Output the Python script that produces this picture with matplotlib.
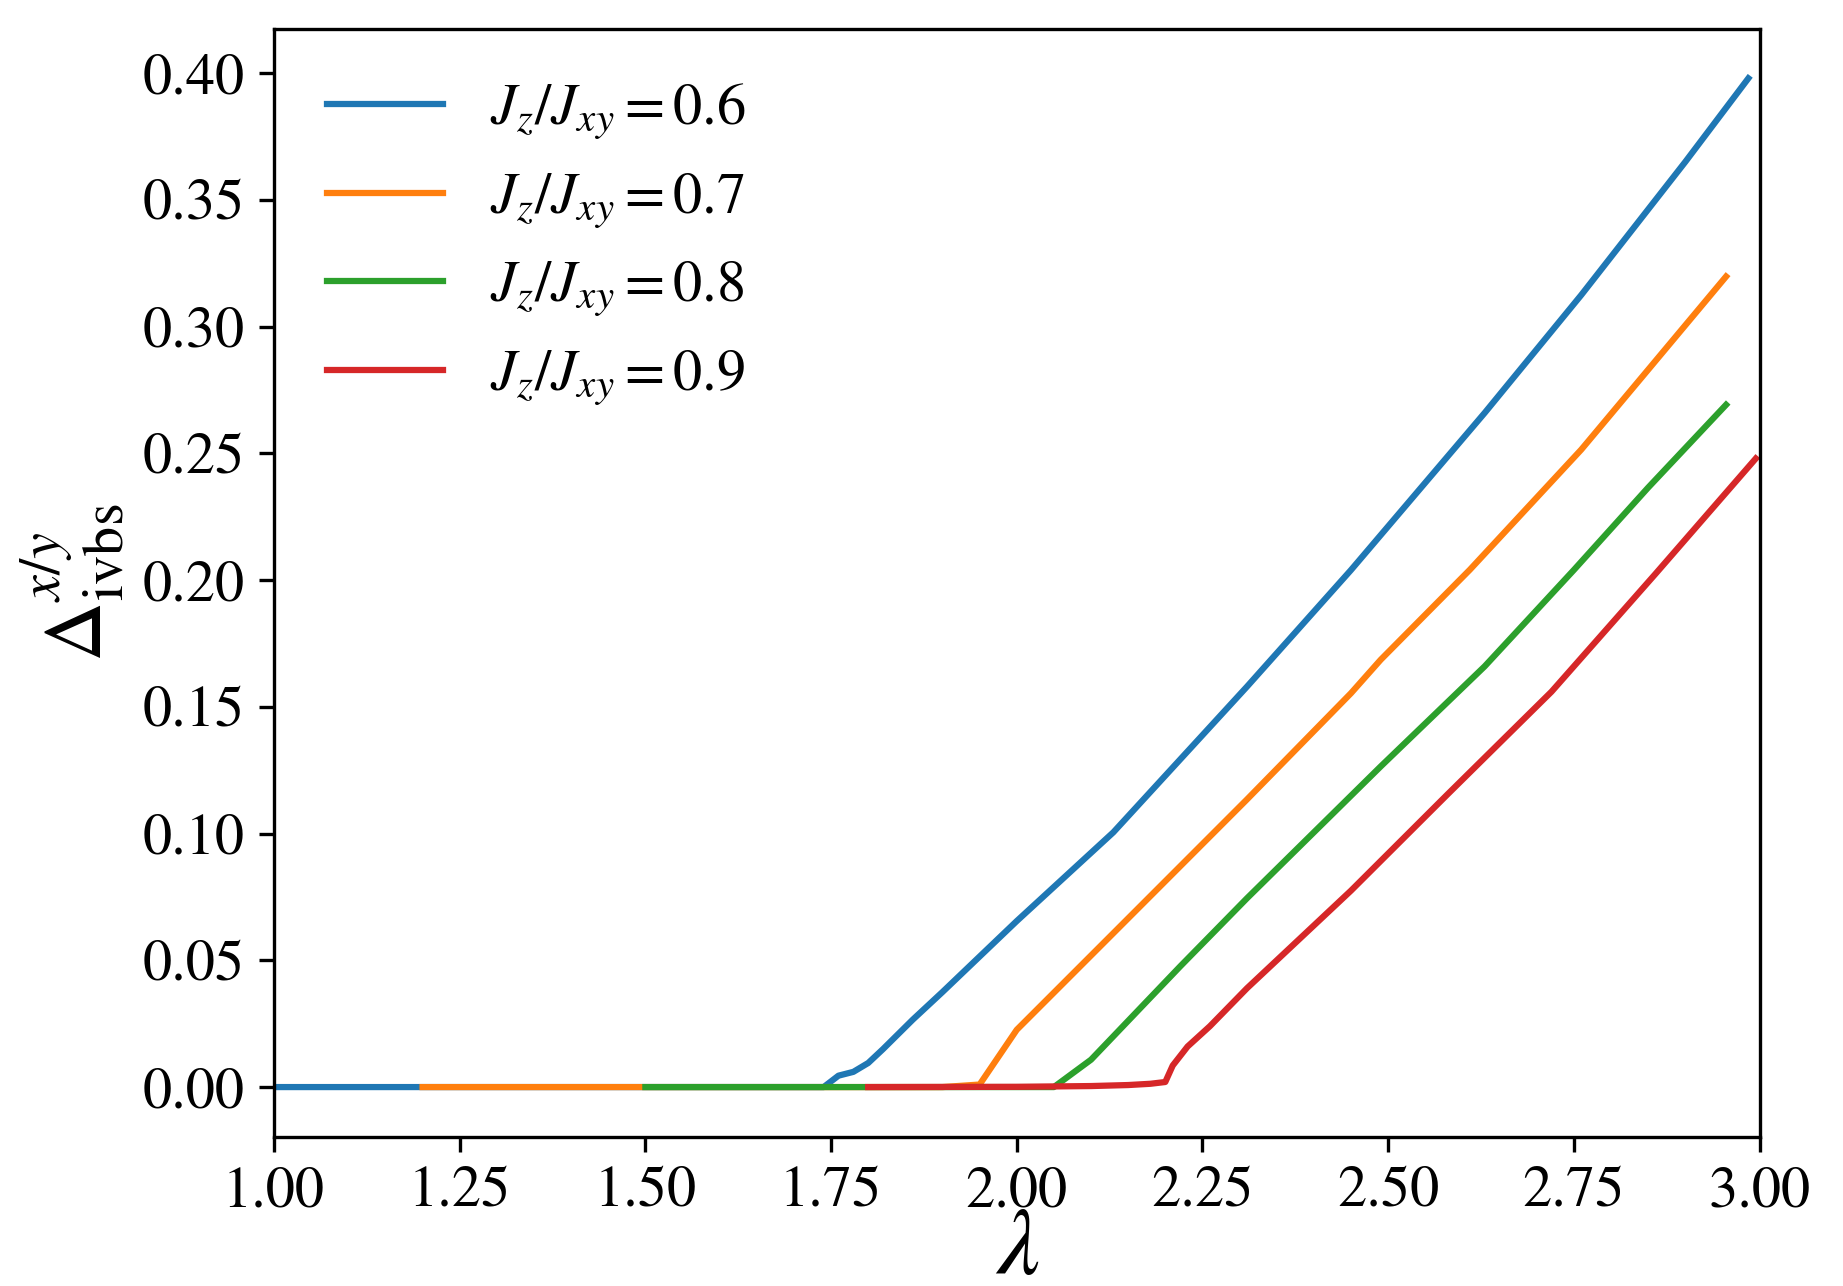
import matplotlib
matplotlib.use("Agg")
import matplotlib.pyplot as plt

plt.rcParams['font.family'] = 'STIXGeneral'
plt.rcParams['mathtext.fontset'] = 'stix'

# Data
x_06 = [1.00, 1.74, 1.76, 1.78, 1.80, 1.82, 1.86, 1.90, 1.95, 2.00, 2.13, 2.31, 2.45, 2.63, 2.76, 2.90, 2.985]
y_06 = [0.0, 0.0, 0.0045, 0.006, 0.0095, 0.015, 0.0266, 0.0375, 0.0515, 0.0655, 0.1005, 0.158, 0.204, 0.266, 0.3125, 0.365, 0.398]

x_07 = [1.20, 1.90, 1.95, 2.00, 2.13, 2.31, 2.45, 2.49, 2.61, 2.76, 2.85, 2.955]
y_07 = [0.0, 0.0, 0.001, 0.0226, 0.0607, 0.1135, 0.1554, 0.1686, 0.2041, 0.2515, 0.283, 0.3198]

x_08 = [1.50, 2.05, 2.10, 2.22, 2.31, 2.49, 2.63, 2.75, 2.85, 2.955]
y_08 = [0.0, 0.0, 0.0108, 0.0476, 0.0745, 0.1265, 0.166, 0.204, 0.2365, 0.2692]

x_09 = [1.80, 2.00, 2.10, 2.15, 2.18, 2.20, 2.21, 2.23, 2.26, 2.31, 2.35, 2.45, 2.58, 2.72, 2.86, 2.995]
y_09 = [0.0, 0.0001, 0.0004, 0.0008, 0.0013, 0.002, 0.0085, 0.016, 0.024, 0.039, 0.050, 0.0775, 0.1155, 0.156, 0.2025, 0.248]

ratios = ['0.6', '0.7', '0.8', '0.9']
series_x = [x_06, x_07, x_08, x_09]
series_y = [y_06, y_07, y_08, y_09]
colors = ['#1f77b4', '#ff7f0e', '#2ca02c', '#d62728']

W, H, DPI = 1843, 1286, 300
fig = plt.figure(figsize=(W / DPI, H / DPI), dpi=DPI)
ax = fig.add_axes([274 / W, 1 - 1137 / H, (1759.5 - 274) / W, (1137 - 29.4) / H])

for xs, ys, r, c in zip(series_x, series_y, ratios, colors):
    ax.plot(xs, ys, color=c, lw=1.5, label=r'$J_z/J_{xy}=' + r + '$')

ax.set_xlim(1.0, 3.0)
ax.set_ylim(-0.0197, 0.4173)
ax.set_xticks([1.00, 1.25, 1.50, 1.75, 2.00, 2.25, 2.50, 2.75, 3.00])
ax.set_xticklabels(['1.00', '1.25', '1.50', '1.75', '2.00', '2.25', '2.50', '2.75', '3.00'])
ax.set_yticks([0.00, 0.05, 0.10, 0.15, 0.20, 0.25, 0.30, 0.35, 0.40])
ax.set_yticklabels(['0.00', '0.05', '0.10', '0.15', '0.20', '0.25', '0.30', '0.35', '0.40'])
ax.tick_params(labelsize=14)

ax.set_xlabel(r'$\lambda$', fontsize=23, labelpad=-2.5)
ax.set_ylabel(r'$\Delta_{\rm ivbs}^{x/y}$', fontsize=20)

ax.legend(loc='upper left', frameon=False, fontsize=14)

fig.savefig('out.png', dpi=DPI)
